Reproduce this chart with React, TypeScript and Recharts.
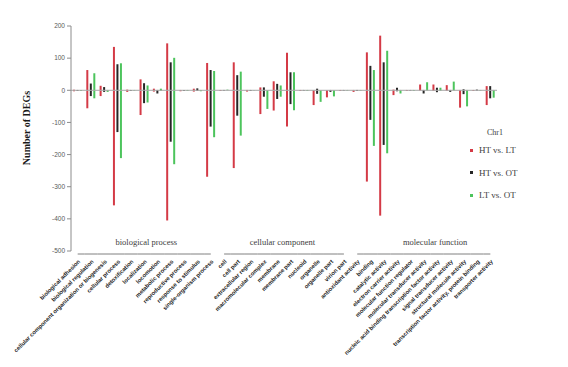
import React from "react";
import { BarChart, Bar, XAxis, YAxis, ReferenceLine, Label } from "recharts";

const terms = [
  "biological adhesion",
  "biological regulation",
  "cellular component organization or biogenesis",
  "cellular process",
  "detoxification",
  "localization",
  "locomotion",
  "metabolic process",
  "reproductive process",
  "response to stimulus",
  "single-organism process",
  "cell",
  "cell part",
  "extracellular region",
  "macromolecular complex",
  "membrane",
  "membrane part",
  "nucleoid",
  "organelle",
  "organelle part",
  "virion part",
  "antioxidant activity",
  "binding",
  "catalytic activity",
  "electron carrier activity",
  "molecular function regulator",
  "molecular transducer activity",
  "nucleic acid binding transcription factor activity",
  "signal transducer activity",
  "structural molecule activity",
  "transcription factor activity, protein binding",
  "transporter activity",
];

const groups = [
  { name: "biological process", from: 0, to: 10, labelAt: 5, dx: 2 },
  { name: "cellular component", from: 11, to: 20, labelAt: 15, dx: 5 },
  { name: "molecular function", from: 21, to: 31, labelAt: 27, dx: -2 },
];

// up / down regulated counts per comparison
const htLtUp = [2, 63, 14, 135, 2, 34, 5, 146, 1, 5, 85, 1, 87, 1, 9, 28, 117, 1, 0, 0, 1, 1, 118, 170, 2, 1, 18, 18, 16, 1, 1, 13];
const htLtDown = [-3, -56, -18, -358, -5, -77, -4, -405, -3, -4, -269, -2, -242, -4, -74, -63, -113, -2, -46, -22, -2, -5, -284, -390, -15, -2, -1, -2, -2, -54, -2, -46];
const htOtUp = [1, 21, 10, 81, 1, 22, 1, 87, 1, 6, 63, 1, 47, 1, 9, 20, 56, 1, 5, 1, 1, 1, 76, 87, 8, 1, 1, 8, 1, 3, 2, 13];
const htOtDown = [-2, -18, -5, -130, -2, -40, -10, -160, -2, -2, -113, -1, -79, -2, -20, -27, -43, -1, -11, -5, -1, -2, -92, -170, -3, -1, -10, -6, -5, -12, -1, -25];
const ltOtUp = [1, 53, 1, 84, 1, 15, 5, 101, 1, 1, 60, 2, 58, 0, 0, 15, 56, 1, 0, 0, 1, 1, 63, 123, 1, 1, 25, 8, 27, 1, 1, 1];
const ltOtDown = [-2, -25, -5, -211, -1, -38, -2, -230, -2, -3, -146, 0, -141, -1, -58, -20, -62, -2, -36, -19, -1, -1, -173, -196, -10, -2, -1, -2, -1, -50, -1, -23];

const yTicks = [200, 100, 0, -100, -200, -300, -400, -500];

const series = [
  { key: "htLt", name: "HT vs. LT", color: "#d43a46", up: htLtUp, down: htLtDown },
  { key: "htOt", name: "HT vs. OT", color: "#262626", up: htOtUp, down: htOtDown },
  { key: "ltOt", name: "LT vs. OT", color: "#4cc45c", up: ltOtUp, down: ltOtDown },
];

const data = terms.map((term, i) => {
  const row: Record<string, string | number> = { term };
  series.forEach((s) => {
    row[s.key + "Up"] = s.up[i];
    row[s.key + "Down"] = s.down[i];
  });
  return row;
});

const W = 552;
const H = 350;
const TOP = 18;
const PLOT_W = 426;
const PLOT_H = 225;
const AXIS_W = 63;
const STEP = PLOT_W / terms.length;

function TermTick(props: any) {
  const { x, y, payload } = props;
  const i = payload.index;
  const g = groups.find((gr) => i >= gr.from && i <= gr.to)!;
  const x1 = i === g.from ? x : x - STEP / 2;
  const x2 = i === g.to ? x : x + STEP / 2;
  return (
    <g>
      <line x1={x1} x2={x2} y1={y + 3} y2={y + 3} stroke="#808080" strokeWidth={1} />
      {i === g.labelAt && (
        <text
          x={x + g.dx}
          y={y - 6}
          textAnchor="middle"
          fontFamily="'Liberation Serif', serif"
          fontSize={8.5}
          fill="#404040"
        >
          {g.name}
        </text>
      )}
      <text
        transform={`translate(${x + 1.5},${y + 9.5}) rotate(-45)`}
        textAnchor="end"
        dy="0.35em"
        fontFamily="'Liberation Sans', sans-serif"
        fontWeight="bold"
        fontSize={5.8}
        fill="#1a1a1a"
      >
        {payload.value}
      </text>
    </g>
  );
}

export default function App() {
  return (
    <div style={{ position: "relative", width: W, height: H }}>
      <BarChart
        width={W}
        height={H}
        data={data}
        stackOffset="sign"
        barGap={1.5}
        margin={{ top: TOP, right: W - AXIS_W - PLOT_W, bottom: 0, left: 0 }}
        style={{ overflow: "visible" }}
      >
        <XAxis
          dataKey="term"
          interval={0}
          tickSize={0}
          tickMargin={0}
          tickLine={false}
          axisLine={false}
          height={H - TOP - PLOT_H}
          tick={<TermTick />}
        />
        <YAxis
          width={AXIS_W}
          domain={[-500, 200]}
          ticks={yTicks}
          tickSize={4}
          tickMargin={2}
          stroke="#8c8c8c"
          tick={{ fontSize: 6.5, fill: "#595959", fontFamily: "'Liberation Sans', sans-serif" }}
        >
          <Label
            content={() => (
              <text
                x={18}
                y={120}
                transform="rotate(-90 18 120)"
                textAnchor="middle"
                dominantBaseline="central"
                fontFamily="'Liberation Serif', serif"
                fontWeight="bold"
                fontSize={10}
                fill="#1a1a1a"
              >
                Number of DEGs
              </text>
            )}
          />
        </YAxis>
        <ReferenceLine y={0} stroke="#a6a6a6" strokeWidth={1} />
        {series.flatMap((s) => [
          <Bar key={s.key + "Up"} dataKey={s.key + "Up"} stackId={s.key} fill={s.color} barSize={2} isAnimationActive={false} />,
          <Bar key={s.key + "Down"} dataKey={s.key + "Down"} stackId={s.key} fill={s.color} barSize={2} isAnimationActive={false} />,
        ])}
      </BarChart>
      <div
        style={{
          position: "absolute",
          left: 476,
          top: 119,
          width: 22,
          textAlign: "center",
          fontFamily: "'Liberation Serif', serif",
          fontSize: 8,
          color: "#404040",
          lineHeight: "12px",
        }}
      >
        Chr1
      </div>
      {series.map((s, i) => (
        <div
          key={s.key}
          style={{
            position: "absolute",
            left: 462,
            top: 136 + i * 22.5,
            height: 12,
            lineHeight: "12px",
            fontFamily: "'Liberation Serif', serif",
            fontSize: 9,
            color: "#404040",
            whiteSpace: "nowrap",
          }}
        >
          <svg width={3} height={3} style={{ position: "absolute", left: 0, top: 4.5 }}>
            <rect x={0} y={0} width={3} height={3} fill={s.color} />
          </svg>
          <span style={{ marginLeft: 9 }}>{s.name}</span>
        </div>
      ))}
    </div>
  );
}
